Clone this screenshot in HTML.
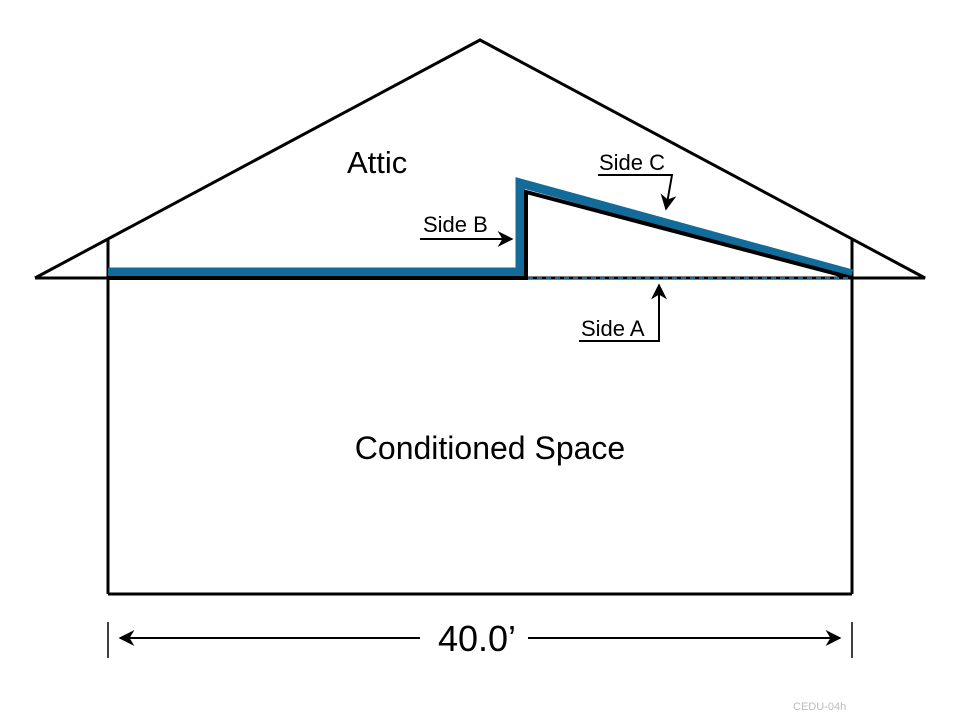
<!DOCTYPE html>
<html><head><meta charset="utf-8"><style>body{margin:0;background:#fff}svg{display:block}</style></head><body>
<svg width="960" height="726" viewBox="0 0 960 726" xmlns="http://www.w3.org/2000/svg" font-family="'Liberation Sans', sans-serif">
<defs><marker id="ah" viewBox="0 0 10 10" refX="9" refY="5" markerWidth="8" markerHeight="8" orient="auto"><path d="M0,0 L10,5 L0,10 L3,5 z" fill="#000"/></marker></defs>
<g stroke="#000" stroke-width="3" fill="none">
<polyline points="35,278 480,40 925,278 35,278"/>
<line x1="108" y1="239" x2="108" y2="594"/>
<line x1="852" y1="239" x2="852" y2="594"/>
<line x1="108" y1="594" x2="852" y2="594"/>
</g>
<polyline points="108,272 520,272 520,183 852,274" stroke="#136b99" stroke-width="9" fill="none" stroke-linejoin="miter"/>
<polyline points="108,278 526,278 526,192 852,278" stroke="#000" stroke-width="4" fill="none"/>
<line x1="528" y1="278" x2="850" y2="278" stroke="#136b99" stroke-width="2" stroke-dasharray="5,4"/>
<g stroke="#000" stroke-width="2" fill="none">
<line x1="420" y1="239" x2="512" y2="239" marker-end="url(#ah)"/>
<polyline points="598,175 672,175 666,209" marker-end="url(#ah)"/>
<polyline points="579,341 659,341 659,285" marker-end="url(#ah)"/>
<line x1="108" y1="622" x2="108" y2="658" stroke-width="1.5"/>
<line x1="852" y1="622" x2="852" y2="658" stroke-width="1.5"/>
<line x1="420" y1="638" x2="120" y2="638" marker-end="url(#ah)"/>
<line x1="528" y1="638" x2="840" y2="638" marker-end="url(#ah)"/>
</g>
<g fill="#000">
<text x="347" y="173" font-size="31">Attic</text>
<text x="423" y="232" font-size="22">Side B</text>
<text x="599" y="170" font-size="22">Side C</text>
<text x="581" y="336" font-size="22">Side A</text>
<text x="490" y="459" font-size="32" text-anchor="middle">Conditioned Space</text>
<text x="477" y="651" font-size="36" text-anchor="middle">40.0’</text>
<text x="793" y="710" font-size="11" fill="#bbb">CEDU-04h</text>
</g>
</svg>
</body></html>
